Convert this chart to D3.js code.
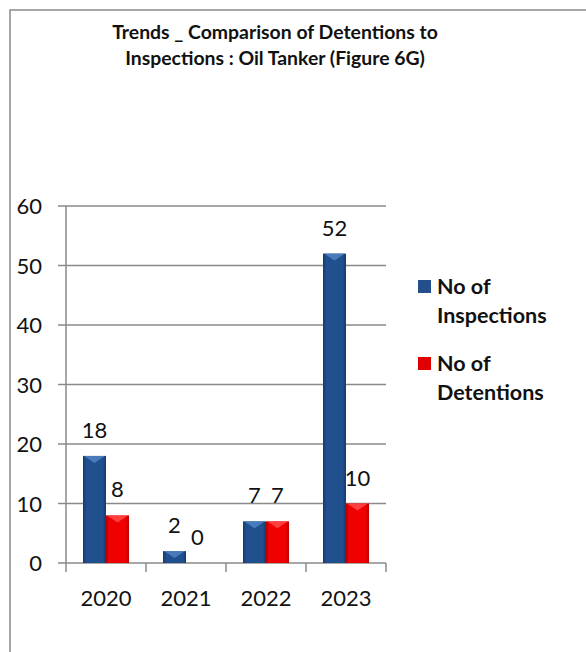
<!DOCTYPE html>
<html><head><meta charset="utf-8">
<script src="https://cdn.jsdelivr.net/npm/d3@7"></script>
<style>body{margin:0;background:#fff}svg{display:block}text{font-family:Lato,"Open Sans",sans-serif}</style>
</head><body>
<script>
const categories = ["2020","2021","2022","2023"];
const inspections = [18, 2, 7, 52];
const detentions = [8, 0, 7, 10];
const seriesNames = ["No of Inspections","No of Detentions"];
const yTicks = [0,10,20,30,40,50,60];
const titleLines = ["Trends _ Comparison of Detentions to","Inspections : Oil Tanker (Figure 6G)"];

const W=586,H=652;
const svg=d3.select("body").append("svg").attr("width",W).attr("height",H);
const defs=svg.append("defs");
function grad(id,edge,mid){
  const g=defs.append("linearGradient").attr("id",id).attr("x1","0").attr("x2","1").attr("y1","0").attr("y2","0");
  g.append("stop").attr("offset","0").attr("stop-color",edge);
  g.append("stop").attr("offset","0.15").attr("stop-color",mid);
  g.append("stop").attr("offset","0.85").attr("stop-color",mid);
  g.append("stop").attr("offset","1").attr("stop-color",edge);
}
grad("gBlue","#163a6a","#21508e");
grad("gRed","#b80000","#f00000");
const colors=["url(#gBlue)","url(#gRed)"];
const bevel=["#4f82c4","#ff4a4a"];
const legendFill=["#244f8a","#e00000"];

// frame
svg.append("rect").attr("x",10).attr("y",10).attr("width",W).attr("height",H)
  .attr("fill","none").attr("stroke","#8a8a8a").attr("stroke-width",1.5);

// title
svg.append("g").selectAll("text").data(titleLines).join("text")
  .attr("x",275).attr("y",(d,i)=>38.5+i*26).attr("text-anchor","middle")
  .attr("font-weight","bold").attr("font-size",19.4).attr("fill","#111").text(d=>d);

const x0=d3.scaleBand().domain(categories).range([66,386]);
const x1=d3.scaleBand().domain([0,1]).range([17,63]);
const y=d3.scaleLinear().domain([0,60]).range([563,206]);

// gridlines
svg.append("g").selectAll("line").data(yTicks).join("line")
  .attr("x1",58).attr("x2",386).attr("y1",d=>y(d)).attr("y2",d=>y(d))
  .attr("stroke","#8a8a8a").attr("stroke-width",1.5);
// y axis line
svg.append("line").attr("x1",66).attr("x2",66).attr("y1",y(60)).attr("y2",y(0))
  .attr("stroke","#8a8a8a").attr("stroke-width",1.5);
// y labels
svg.append("g").selectAll("text").data(yTicks).join("text")
  .attr("x",42).attr("y",d=>y(d)+8).attr("text-anchor","end")
  .attr("font-size",22).attr("fill","#111").text(d=>d);
// x ticks
const bounds=categories.map(c=>x0(c)).concat([x0.range()[1]]);
svg.append("g").selectAll("line").data(bounds).join("line")
  .attr("x1",d=>d).attr("x2",d=>d).attr("y1",y(0)).attr("y2",y(0)+9)
  .attr("stroke","#8a8a8a").attr("stroke-width",1.5);
svg.append("g").selectAll("text").data(categories).join("text")
  .attr("x",d=>x0(d)+x0.bandwidth()/2).attr("y",606).attr("text-anchor","middle")
  .attr("font-size",22).attr("fill","#111").text(d=>d);

// bars
const series=[inspections,detentions];
series.forEach((vals,si)=>{
  const g=svg.append("g");
  const data=categories.map((c,i)=>({c,v:vals[i]}));
  g.selectAll("rect").data(data).join("rect")
    .attr("x",d=>x0(d.c)+x1(si)).attr("width",x1.bandwidth())
    .attr("y",d=>y(d.v)).attr("height",d=>y(0)-y(d.v))
    .attr("fill",colors[si]);
  g.selectAll("path").data(data.filter(d=>d.v>0)).join("path")
    .attr("d",d=>{
      const xl=x0(d.c)+x1(si), xr=xl+x1.bandwidth(), yt=y(d.v);
      const h=Math.min(7,(y(0)-yt)*0.6);
      return `M${xl+1},${yt}L${xr-1},${yt}L${(xl+xr)/2},${yt+h}Z`;
    }).attr("fill",bevel[si]).attr("opacity",0.85);
  g.selectAll("text").data(data).join("text")
    .attr("x",d=>x0(d.c)+x1(si)+x1.bandwidth()/2)
    .attr("y",d=>y(d.v)-18).attr("text-anchor","middle")
    .attr("font-size",22).attr("fill","#111").text(d=>d.v);
});

// legend
const lg=svg.append("g");
const legLines=[["No of","Inspections"],["No of","Detentions"]];
legLines.forEach((ls,i)=>{
  const yy=280+i*77;
  lg.append("rect").attr("x",418).attr("y",yy).attr("width",13).attr("height",13).attr("fill",legendFill[i]);
  ls.forEach((t,j)=>lg.append("text").attr("x",437).attr("y",yy+14+j*28.5)
    .attr("font-weight","bold").attr("font-size",21.5).attr("fill","#111").text(t));
});
</script>
</body></html>
